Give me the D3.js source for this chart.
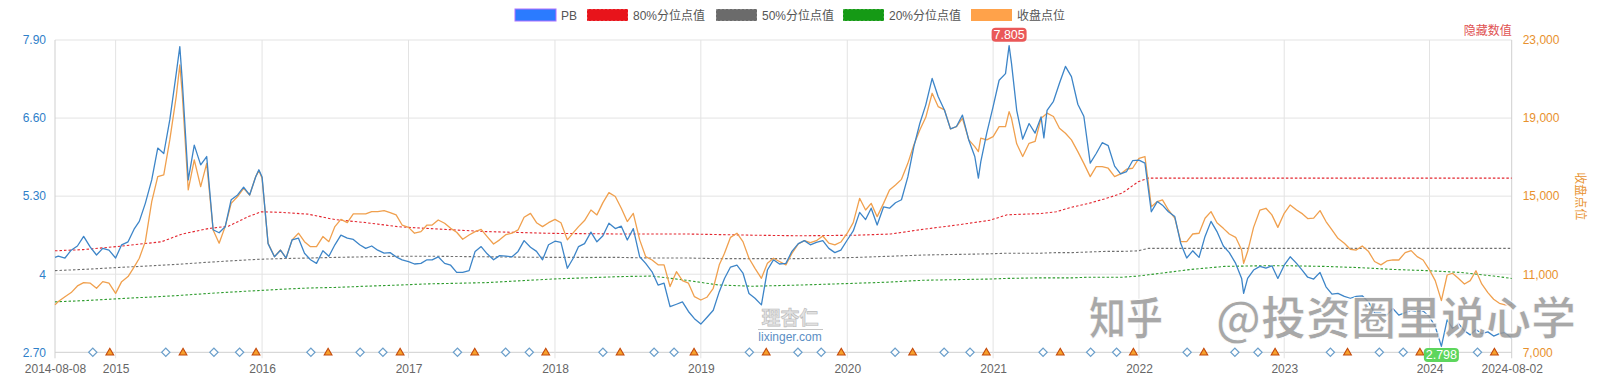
<!DOCTYPE html>
<html><head><meta charset="utf-8">
<script src="https://cdn.jsdelivr.net/npm/d3@7"></script>
<style>
body{margin:0;background:#fff;}
svg{display:block;font-family:"Liberation Sans",Arial,"Noto Sans CJK SC",sans-serif;}
</style></head><body>
<svg id="c" width="1614" height="391"></svg>
<script>
// ---------------- data ----------------
const dates = ["2014-08-08","2014-08-16","2014-09-01","2014-09-16","2014-10-01","2014-10-16","2014-11-01","2014-11-16","2014-12-01","2014-12-16",
"2015-01-01","2015-01-16","2015-02-01","2015-02-16","2015-03-01","2015-03-16","2015-04-01","2015-04-16","2015-05-01","2015-05-16","2015-06-01","2015-06-10","2015-06-16","2015-07-01","2015-07-16","2015-08-01","2015-08-16","2015-09-01","2015-09-16","2015-10-01","2015-10-16","2015-11-01","2015-11-16","2015-12-01","2015-12-16","2015-12-24",
"2016-01-01","2016-01-16","2016-02-01","2016-02-16","2016-03-01","2016-03-16","2016-04-01","2016-04-16","2016-05-01","2016-05-16","2016-06-01","2016-06-16","2016-07-01","2016-07-16","2016-08-01","2016-08-16","2016-09-01","2016-09-16","2016-10-01","2016-10-16","2016-11-01","2016-11-16","2016-12-01","2016-12-16",
"2017-01-01","2017-01-16","2017-02-01","2017-02-16","2017-03-01","2017-03-16","2017-04-01","2017-04-16","2017-05-01","2017-05-16","2017-06-01","2017-06-16","2017-07-01","2017-07-16","2017-08-01","2017-08-16","2017-09-01","2017-09-16","2017-10-01","2017-10-16","2017-11-01","2017-11-16","2017-12-01","2017-12-16",
"2018-01-01","2018-01-16","2018-02-01","2018-02-16","2018-03-01","2018-03-16","2018-04-01","2018-04-16","2018-05-01","2018-05-16","2018-06-01","2018-06-16","2018-07-01","2018-07-16","2018-08-01","2018-08-16","2018-09-01","2018-09-16","2018-10-01","2018-10-16","2018-11-01","2018-11-16","2018-12-01","2018-12-16",
"2019-01-01","2019-01-16","2019-02-01","2019-02-16","2019-03-01","2019-03-16","2019-04-01","2019-04-16","2019-05-01","2019-05-16","2019-06-01","2019-06-16","2019-07-01","2019-07-16","2019-08-01","2019-08-16","2019-09-01","2019-09-16","2019-10-01","2019-10-16","2019-11-01","2019-11-16","2019-12-01","2019-12-16",
"2020-01-01","2020-01-16","2020-02-01","2020-02-16","2020-03-01","2020-03-16","2020-04-01","2020-04-16","2020-05-01","2020-05-16","2020-06-01","2020-06-16","2020-07-01","2020-07-16","2020-08-01","2020-08-16","2020-09-01","2020-09-16","2020-10-01","2020-10-16","2020-11-01","2020-11-16","2020-11-25","2020-12-01","2020-12-16",
"2021-01-01","2021-01-16","2021-02-01","2021-02-10","2021-02-16","2021-03-01","2021-03-16","2021-04-01","2021-04-16","2021-05-01","2021-05-08","2021-05-16","2021-06-01","2021-06-16","2021-07-01","2021-07-16","2021-08-01","2021-08-16","2021-09-01","2021-09-16","2021-10-01","2021-10-16","2021-11-01","2021-11-16","2021-12-01","2021-12-16",
"2022-01-01","2022-01-16","2022-02-01","2022-02-16","2022-03-01","2022-03-16","2022-04-01","2022-04-16","2022-05-01","2022-05-16","2022-06-01","2022-06-16","2022-07-01","2022-07-16","2022-08-01","2022-08-16","2022-09-01","2022-09-16","2022-09-21","2022-10-01","2022-10-16","2022-11-01","2022-11-16","2022-12-01","2022-12-16",
"2023-01-01","2023-01-16","2023-02-01","2023-02-16","2023-03-01","2023-03-16","2023-04-01","2023-04-16","2023-05-01","2023-05-16","2023-06-01","2023-06-16","2023-07-01","2023-07-16","2023-08-01","2023-08-16","2023-09-01","2023-09-16","2023-10-01","2023-10-16","2023-11-01","2023-11-16","2023-12-01","2023-12-16",
"2024-01-01","2024-01-16","2024-02-01","2024-02-16","2024-03-01","2024-03-16","2024-04-01","2024-04-16","2024-05-01","2024-05-16","2024-06-01","2024-06-16","2024-07-01","2024-07-16","2024-08-02"];

const pbValues = [4.28,4.30,4.27,4.40,4.47,4.63,4.45,4.32,4.43,4.40,
4.27,4.49,4.54,4.75,4.88,5.18,5.57,6.10,6.01,6.57,7.34,7.79,7.23,5.57,6.15,5.82,5.96,4.74,4.69,4.79,5.24,5.32,5.45,5.32,5.62,5.74,
5.62,4.51,4.29,4.40,4.27,4.57,4.60,4.35,4.24,4.18,4.39,4.30,4.49,4.65,4.60,4.58,4.49,4.43,4.47,4.40,4.35,4.36,4.29,4.24,
4.21,4.17,4.18,4.24,4.24,4.29,4.18,4.15,4.03,4.03,4.06,4.38,4.46,4.34,4.24,4.31,4.30,4.29,4.38,4.56,4.45,4.38,4.24,4.49,
4.55,4.53,4.10,4.27,4.46,4.51,4.70,4.54,4.64,4.85,4.76,4.80,4.57,4.76,4.29,4.18,4.04,3.82,3.85,3.46,3.50,3.54,3.38,3.26,
3.17,3.28,3.40,3.71,3.93,4.12,4.15,4.02,3.68,3.60,3.49,4.07,4.24,4.17,4.18,4.38,4.51,4.56,4.49,4.53,4.56,4.43,4.36,4.40,
4.57,4.72,5.03,4.91,5.10,4.82,5.12,5.10,5.19,5.24,5.62,6.12,6.51,6.82,7.26,6.96,6.73,6.42,6.46,6.65,6.23,5.96,5.60,5.87,6.35,
6.79,7.23,7.34,7.805,7.51,6.73,6.25,6.51,6.35,6.62,6.27,6.73,6.88,7.18,7.46,7.29,6.83,6.63,5.85,6.01,6.19,6.14,5.80,5.67,5.71,5.89,
5.90,5.85,5.04,5.21,5.15,5.04,4.96,4.51,4.27,4.39,4.28,4.63,4.88,4.71,4.47,4.36,4.18,3.93,3.68,3.93,4.07,4.13,4.10,4.14,3.93,
4.15,4.29,4.18,4.06,3.95,3.92,4.03,3.79,3.67,3.68,3.63,3.60,3.63,3.64,3.54,3.35,3.35,3.32,3.43,3.32,3.36,3.40,3.38,3.39,
3.29,3.13,2.798,3.24,3.10,3.18,3.06,2.99,3.08,3.01,3.04,2.97,3.01,3.03,2.93];

const closeValues = [9430,9600,9850,10060,10400,10570,10540,10280,10620,10540,
10020,10620,10880,11360,11820,12670,14720,16000,16090,17880,20100,21720,20270,15320,16860,15490,16680,13270,12590,13440,14630,14980,15400,15060,16000,16310,
15920,12590,11900,12240,11820,12760,13100,12670,12410,12410,12930,12670,13440,13810,13640,14090,14090,14090,14210,14210,14260,14160,14040,13520,
13400,13100,13180,13520,13520,13780,13610,13350,13150,12790,13010,13180,13300,12930,12550,12760,13030,13100,13270,13920,14120,13640,13440,13640,
13810,13640,12760,13130,13440,13750,14290,14040,14670,15180,14980,14380,13700,14120,12760,11900,11730,11480,11480,10370,11130,10670,10540,9850,
9680,9820,10280,11480,12070,12890,13100,12670,11820,11300,10790,11560,11820,11650,11480,12070,12550,12720,12620,12720,12960,12590,12500,12650,
13100,13640,14890,14290,14630,13950,14630,15320,15570,15860,16680,17620,18390,19040,20270,19590,19420,18440,18560,18990,17880,17540,17280,17970,17880,
18050,18560,18560,19330,18990,17680,17030,17710,17800,18990,19110,19250,19080,18480,18220,17880,17280,16680,16000,16510,16510,16430,16000,16140,16380,16430,
16940,17030,14460,14720,14810,14290,13870,12670,12670,13060,13100,13870,14210,13640,13350,13060,12890,12240,11560,12160,13400,14290,14380,14040,13400,
14120,14550,14290,14090,13850,13870,14260,13700,13270,12840,12590,12280,12240,12450,12160,11650,11480,11680,11730,11730,12110,12210,11900,11730,
11220,10670,9650,10960,11050,10790,10500,10670,11180,10500,10060,9720,9510,9430,9430];

const pctDates = ["2014-08-08","2014-10-15","2015-01-03","2015-04-25","2015-06-16","2015-08-20","2015-10-09","2015-11-28","2015-12-30","2016-02-18","2016-04-25","2016-07-01","2016-09-15","2016-12-08","2017-02-22","2017-07-13","2017-12-26","2018-06-10","2018-09-01","2018-11-25","2019-02-15","2019-05-11","2019-09-05","2020-01-26","2020-04-19","2020-07-11","2020-10-03","2020-12-25","2021-02-05","2021-04-28","2021-06-08","2021-07-19","2021-08-29","2021-10-10","2021-11-20","2021-12-30","2022-01-24","2022-05-12","2022-08-04","2022-10-27","2023-01-18","2023-04-13","2023-07-08","2023-10-01","2023-12-25","2024-03-21","2024-06-16","2024-08-02"];
const p80Values = [4.39,4.41,4.46,4.54,4.67,4.76,4.80,4.96,5.04,5.03,5.00,4.91,4.86,4.79,4.76,4.71,4.68,4.67,4.67,4.67,4.66,4.65,4.64,4.65,4.67,4.75,4.82,4.90,4.99,5.01,5.04,5.12,5.18,5.26,5.35,5.54,5.60,5.60,5.60,5.60,5.60,5.60,5.60,5.60,5.60,5.60,5.60,5.60];
const p50Values = [4.06,4.08,4.11,4.15,4.17,4.20,4.22,4.24,4.25,4.26,4.27,4.28,4.29,4.30,4.30,4.29,4.28,4.28,4.27,4.27,4.26,4.26,4.26,4.28,4.30,4.32,4.33,4.34,4.35,4.35,4.36,4.36,4.37,4.38,4.38,4.39,4.43,4.43,4.43,4.43,4.43,4.43,4.43,4.43,4.43,4.43,4.43,4.43];
const p20Values = [3.54,3.56,3.59,3.63,3.65,3.68,3.70,3.72,3.73,3.75,3.77,3.78,3.80,3.82,3.84,3.86,3.92,3.96,3.97,3.90,3.82,3.80,3.82,3.85,3.87,3.90,3.91,3.92,3.93,3.94,3.94,3.94,3.95,3.95,3.95,3.97,3.99,4.08,4.13,4.14,4.14,4.13,4.11,4.08,4.06,4.03,3.97,3.93];

const diamondDates = ["2014-11-07","2015-05-06","2015-09-03","2015-11-06","2016-05-02","2016-09-02","2016-10-29","2017-05-03","2017-08-31","2017-10-29","2018-05-01","2018-09-06","2018-10-26","2019-05-02","2019-08-31","2019-10-28","2020-04-30","2020-08-31","2020-11-04","2021-05-06","2021-09-02","2021-11-06","2022-05-02","2022-08-30","2022-10-27","2023-04-27","2023-08-28","2023-10-27","2024-05-05"];
const triangleDates = ["2014-12-18","2015-06-18","2015-12-17","2016-06-14","2016-12-11","2017-06-15","2017-12-09","2018-06-13","2018-12-15","2019-06-13","2019-12-17","2020-06-13","2020-12-15","2021-06-18","2021-12-18","2022-06-13","2022-12-09","2023-06-09","2023-12-08","2024-06-18"];

// x axis is trading-day based: segment boundaries and trading days per segment
const segBounds = ["2014-08-08","2015-01-01","2016-01-01","2017-01-01","2018-01-01","2019-01-01","2020-01-01","2021-01-01","2022-01-01","2023-01-01","2024-01-01","2024-08-02"];
const segTradingDays = [101,244,244,244,243,244,243,243,242,242,137];
const xTickLabels = ["2014-08-08","2015","2016","2017","2018","2019","2020","2021","2022","2023","2024","2024-08-02"];

const leftTicks = [2.7,4,5.3,6.6,7.9];
const leftTickLabels = ["2.70","4","5.30","6.60","7.90"];
const rightTicks = [7000,11000,15000,19000,23000];

const legendNames = ["PB","80%分位点值","50%分位点值","20%分位点值","收盘点位"];
const legendColors = ["#2b7bff","#e8141b","#6b6b6b","#159a15","#ffa24a"];

// ---------------- layout ----------------
const L = 55, R = 1511.7, T = 40, B = 352.3;
const parse = d3.timeParse("%Y-%m-%d");
const svg = d3.select("#c");

const cum = [0];
segTradingDays.forEach(n => cum.push(cum[cum.length-1] + n));
const tdToPx = d3.scaleLinear().domain([0, cum[cum.length-1]]).range([L, R]);
const x = d3.scaleTime().domain(segBounds.map(parse)).range(cum.map(tdToPx));
const yL = d3.scaleLinear().domain([2.7, 7.9]).range([B, T]);
const yR = d3.scaleLinear().domain([7000, 23000]).range([B, T]);

// grid
const grid = svg.append("g");
grid.selectAll("line.h").data(leftTicks).join("line")
  .attr("x1", L).attr("x2", R).attr("y1", d => yL(d)).attr("y2", d => yL(d))
  .attr("stroke", (d,i) => i === 0 ? "#cfcfcf" : "#e3e3e3").attr("stroke-width", 1);
grid.selectAll("line.v").data(segBounds.map(parse)).join("line")
  .attr("x1", d => x(d)).attr("x2", d => x(d)).attr("y1", T).attr("y2", B + 6)
  .attr("stroke", (d,i) => (i === 0 || i === segBounds.length-1) ? "#cfcfcf" : "#e3e3e3");

// axes
const fontFam = '"Liberation Sans",Arial,"Noto Sans CJK SC",sans-serif';
const axL = svg.append("g").attr("transform", `translate(${L},0)`)
  .call(d3.axisLeft(yL).tickValues(leftTicks).tickFormat((d,i) => leftTickLabels[i]).tickSize(0).tickPadding(9));
const axR = svg.append("g").attr("transform", `translate(${R},0)`)
  .call(d3.axisRight(yR).tickValues(rightTicks).tickFormat(d3.format(",")).tickSize(0).tickPadding(11));
const axB = svg.append("g").attr("transform", `translate(0,${B})`)
  .call(d3.axisBottom(x).tickValues(segBounds.map(parse)).tickFormat((d,i) => xTickLabels[i]).tickSize(0).tickPadding(12));
[axL, axR, axB].forEach(a => { a.select(".domain").remove(); a.selectAll("text").attr("font-size", 12).attr("font-family", fontFam); });
axL.selectAll("text").attr("fill", "#2f80c9");
axR.selectAll("text").attr("fill", "#e8912d");
axB.selectAll("text").attr("fill", "#666");

// percentile dotted lines
const pctParsed = pctDates.map(parse);
const pctLine = vals => d3.line().x((d,i) => x(pctParsed[i])).y((d,i) => yL(vals[i]))(vals);
[[p80Values,"#e3262f"],[p50Values,"#707070"],[p20Values,"#2e9c2e"]].forEach(([vals,col]) => {
  svg.append("path").attr("d", pctLine(vals)).attr("fill","none").attr("stroke", col)
    .attr("stroke-width", 1.1).attr("stroke-dasharray", "2.5,2");
});

// series
const parsed = dates.map(parse);
const closeLine = d3.line().x((d,i) => x(parsed[i])).y(d => yR(d));
const pbLine = d3.line().x((d,i) => x(parsed[i])).y(d => yL(d));
svg.append("path").attr("d", closeLine(closeValues)).attr("fill","none")
  .attr("stroke","#f0a04e").attr("stroke-width",1.3).attr("stroke-linejoin","round");
svg.append("path").attr("d", pbLine(pbValues)).attr("fill","none")
  .attr("stroke","#3d85c8").attr("stroke-width",1.3).attr("stroke-linejoin","round");

// event markers on the baseline
svg.append("g").selectAll("path").data(diamondDates.map(parse)).join("path")
  .attr("d", d3.symbol(d3.symbolSquare, 34))
  .attr("transform", d => `translate(${x(d)},${yL(2.7)}) rotate(45)`)
  .attr("fill","#fff").attr("stroke","#6b9fcb").attr("stroke-width",1.2);
svg.append("g").selectAll("path").data(triangleDates.map(parse)).join("path")
  .attr("d", d3.symbol(d3.symbolTriangle, 26))
  .attr("transform", d => `translate(${x(d)},${yL(2.7) + 0.5})`)
  .attr("fill","#f6a02c").attr("stroke","#c44a0c").attr("stroke-width",1.1);

// watermarks (drawn before badges so badges sit on top)
const wm = svg.append("g");
wm.append("text").attr("x", 790).attr("y", 325).attr("text-anchor","middle").attr("font-size", 19)
  .attr("font-weight","bold").attr("fill","#e2e2e2").attr("stroke","#b9b9b9").attr("stroke-width",0.6)
  .attr("font-family",'"Noto Sans CJK SC",sans-serif').text("理杏仁");
wm.append("line").attr("x1",758).attr("x2",823).attr("y1",329.5).attr("y2",329.5).attr("stroke","#c4c4c4");
wm.append("text").attr("x", 790).attr("y", 341).attr("text-anchor","middle").attr("font-size", 12)
  .attr("fill","#5b8ec4").text("lixinger.com");
wm.append("text").attr("x", 1089).attr("y", 335).attr("font-size", 45).attr("font-weight","bold")
  .attr("font-family",'"Noto Sans CJK SC",sans-serif').attr("textLength", 74).attr("lengthAdjust","spacingAndGlyphs")
  .attr("fill","#989898").attr("fill-opacity",0.85).attr("stroke","#fff").attr("stroke-width",0.8).text("知乎");
wm.append("text").attr("x", 1576).attr("y", 335).attr("text-anchor","end").attr("font-size", 45).attr("font-weight","bold")
  .attr("font-family",'"Noto Sans CJK SC",sans-serif')
  .attr("fill","#989898").attr("fill-opacity",0.85).attr("stroke","#fff").attr("stroke-width",0.8).text("@投资圈里说心学");

// max / min labels
function badge(idx, color, above) {
  const px = x(parsed[idx]), py = yL(pbValues[idx]);
  const w = 35, h = 14;
  const cy = above ? py - 4 - h/2 : py + 1.5 + h/2;
  const g = svg.append("g");
  g.append("rect").attr("x", px - w/2).attr("y", cy - h/2).attr("width", w).attr("height", h)
    .attr("rx", 4).attr("fill", color);
  g.append("text").attr("x", px).attr("y", cy + 4.3).attr("text-anchor","middle")
    .attr("font-size", 12.5).attr("fill","#fff").text(d3.format(".3f")(pbValues[idx]));
}
badge(d3.maxIndex(pbValues), "#ea5858", true);
badge(d3.minIndex(pbValues), "#5dd65d", false);

// legend
const legX = [515, 587, 716, 843, 971];
const leg = svg.append("g");
legendNames.forEach((n,i) => {
  leg.append("rect").attr("x", legX[i]).attr("y", 9).attr("width", 41).attr("height", 12)
    .attr("fill", legendColors[i]).attr("stroke", i === 0 ? "#b070ff" : "none").attr("stroke-width", 1);
  if (i >= 1 && i <= 3) {
    leg.append("rect").attr("x", legX[i]).attr("y", 9).attr("width", 41).attr("height", 12)
      .attr("fill", "none").attr("stroke", "#fff").attr("stroke-opacity", 0.35)
      .attr("stroke-dasharray", "2,2").attr("stroke-width", 1);
  }
  leg.append("text").attr("x", legX[i] + 46).attr("y", 19.5).attr("font-size", 12)
    .attr("fill", "#555").text(n);
});

// other texts
svg.append("text").attr("x", R).attr("y", 35).attr("text-anchor","end").attr("font-size",12)
  .attr("fill","#e05252").text("隐藏数值");
svg.append("text").attr("transform", `translate(1576,${(T+B)/2}) rotate(90)`).attr("text-anchor","middle")
  .attr("font-size",12).attr("fill","#e8912d").text("收盘点位");
</script>
</body></html>
